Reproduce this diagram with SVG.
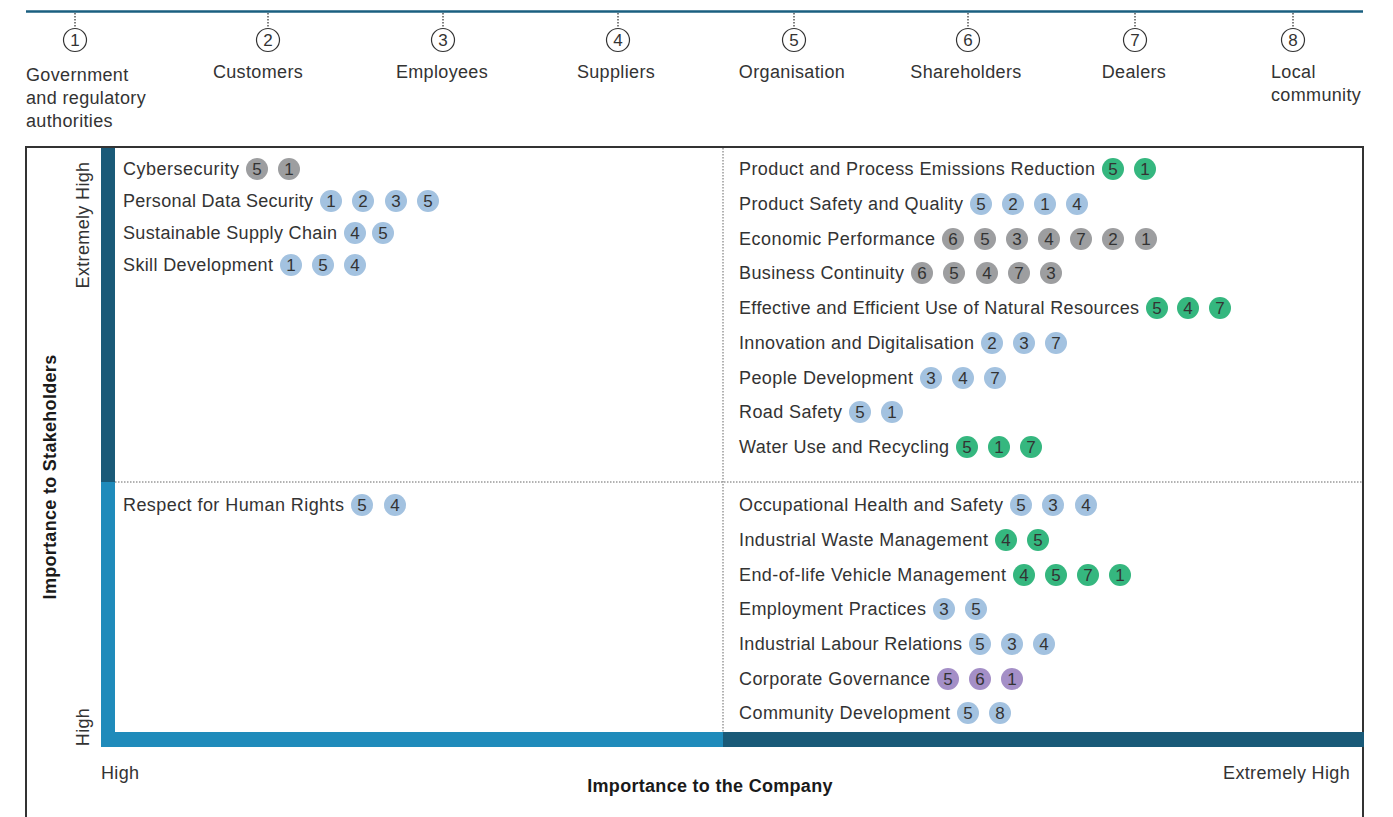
<svg xmlns="http://www.w3.org/2000/svg" width="1393" height="817" viewBox="0 0 1393 817">
<style>
text{font-family:"Liberation Sans",Arial,Helvetica,sans-serif;fill:#333;}
.lbl{font-size:18px;letter-spacing:0.35px;}
.it{font-size:18px;}
.b text{font-size:17px;text-anchor:middle;}
.g circle{fill:#9d9ea0;}
.bl circle{fill:#a3c2e0;}
.gr circle{fill:#35b77f;}
.pu circle{fill:#a48fc7;}
.sc circle{fill:none;stroke:#333;stroke-width:1.2;}
.sc text{font-size:17px;text-anchor:middle;}
.tick{stroke:#555;stroke-width:1.5;stroke-dasharray:1.5 1.5;}
.dot{stroke:#666;stroke-width:1;stroke-dasharray:1.5 1.5;fill:none;}
.ax{font-size:18px;font-weight:bold;fill:#1a1a1a;letter-spacing:0.3px;}
</style>
<rect width="1393" height="817" fill="#fff"/>
<!-- top legend -->
<g id="legend">
<line x1="26" y1="11.5" x2="1363" y2="11.5" stroke="#1a5f80" stroke-width="2.5"/>
<g class="sc">
<line class="tick" x1="75" y1="13" x2="75" y2="28"/><circle cx="75" cy="40" r="11.5"/><text x="75" y="46">1</text>
<line class="tick" x1="268" y1="13" x2="268" y2="28"/><circle cx="268" cy="40" r="11.5"/><text x="268" y="46">2</text>
<line class="tick" x1="443" y1="13" x2="443" y2="28"/><circle cx="443" cy="40" r="11.5"/><text x="443" y="46">3</text>
<line class="tick" x1="618" y1="13" x2="618" y2="28"/><circle cx="618" cy="40" r="11.5"/><text x="618" y="46">4</text>
<line class="tick" x1="794" y1="13" x2="794" y2="28"/><circle cx="794" cy="40" r="11.5"/><text x="794" y="46">5</text>
<line class="tick" x1="968" y1="13" x2="968" y2="28"/><circle cx="968" cy="40" r="11.5"/><text x="968" y="46">6</text>
<line class="tick" x1="1135" y1="13" x2="1135" y2="28"/><circle cx="1135" cy="40" r="11.5"/><text x="1135" y="46">7</text>
<line class="tick" x1="1293" y1="13" x2="1293" y2="28"/><circle cx="1293" cy="40" r="11.5"/><text x="1293" y="46">8</text>
</g>
<text class="lbl" x="26" y="81">Government</text>
<text class="lbl" x="26" y="104">and regulatory</text>
<text class="lbl" x="26" y="127">authorities</text>
<text class="lbl" x="258" y="78" text-anchor="middle">Customers</text>
<text class="lbl" x="442" y="78" text-anchor="middle">Employees</text>
<text class="lbl" x="616" y="78" text-anchor="middle">Suppliers</text>
<text class="lbl" x="792" y="78" text-anchor="middle">Organisation</text>
<text class="lbl" x="966" y="78" text-anchor="middle">Shareholders</text>
<text class="lbl" x="1134" y="78" text-anchor="middle">Dealers</text>
<text class="lbl" x="1271" y="78">Local</text>
<text class="lbl" x="1271" y="101">community</text>
</g>
<!-- frame and axes -->
<g id="frame">
<path d="M26 817 V147 H1363 V817" fill="none" stroke="#333" stroke-width="2"/>
<line class="dot" x1="723" y1="148" x2="723" y2="732"/>
<line class="dot" x1="115" y1="482" x2="1362" y2="482"/>
<rect x="101" y="148" width="14" height="334" fill="#1a5a78"/>
<rect x="101" y="482" width="14" height="250" fill="#1f8bbb"/>
<rect x="101" y="732" width="622" height="15" fill="#1f8bbb"/>
<rect x="723" y="732" width="641" height="15" fill="#1a5a78"/>
<text class="lbl" transform="translate(89 225) rotate(-90)" text-anchor="middle">Extremely High</text>
<text class="lbl" transform="translate(89 727) rotate(-90)" text-anchor="middle">High</text>
<text class="ax" transform="translate(56 477) rotate(-90)" text-anchor="middle">Importance to Stakeholders</text>
<text class="lbl" x="101" y="779">High</text>
<text class="lbl" x="1350" y="779" text-anchor="end">Extremely High</text>
<text class="ax" x="710" y="792" text-anchor="middle">Importance to the Company</text>
</g>
<!-- top-left quadrant -->
<g id="n-cyber"><text class="it" x="123" y="175" textLength="116">Cybersecurity</text>
<g class="b g"><circle cx="257" cy="169" r="11"/><text x="257" y="175">5</text><circle cx="289" cy="169" r="11"/><text x="289" y="175">1</text></g></g>
<g id="n-pds"><text class="it" x="123" y="207" textLength="190">Personal Data Security</text>
<g class="b bl"><circle cx="331" cy="201" r="11"/><text x="331" y="207">1</text><circle cx="363" cy="201" r="11"/><text x="363" y="207">2</text><circle cx="396" cy="201" r="11"/><text x="396" y="207">3</text><circle cx="428" cy="201" r="11"/><text x="428" y="207">5</text></g></g>
<g id="n-ssc"><text class="it" x="123" y="239" textLength="214">Sustainable Supply Chain</text>
<g class="b bl"><circle cx="355" cy="233" r="11"/><text x="355" y="239">4</text><circle cx="383" cy="233" r="11"/><text x="383" y="239">5</text></g></g>
<g id="n-skill"><text class="it" x="123" y="271" textLength="150">Skill Development</text>
<g class="b bl"><circle cx="291" cy="265" r="11"/><text x="291" y="271">1</text><circle cx="323" cy="265" r="11"/><text x="323" y="271">5</text><circle cx="355" cy="265" r="11"/><text x="355" y="271">4</text></g></g>
<!-- bottom-left -->
<g id="n-hr"><text class="it" x="123" y="511" textLength="221">Respect for Human Rights</text>
<g class="b bl"><circle cx="362" cy="505" r="11"/><text x="362" y="511">5</text><circle cx="395" cy="505" r="11"/><text x="395" y="511">4</text></g></g>
<!-- top-right -->
<g id="n-emis"><text class="it" x="739" y="175" textLength="356">Product and Process Emissions Reduction</text>
<g class="b gr"><circle cx="1113" cy="169" r="11"/><text x="1113" y="175">5</text><circle cx="1145" cy="169" r="11"/><text x="1145" y="175">1</text></g></g>
<g id="n-psq"><text class="it" x="739" y="210" textLength="224">Product Safety and Quality</text>
<g class="b bl"><circle cx="981" cy="204" r="11"/><text x="981" y="210">5</text><circle cx="1013" cy="204" r="11"/><text x="1013" y="210">2</text><circle cx="1045" cy="204" r="11"/><text x="1045" y="210">1</text><circle cx="1077" cy="204" r="11"/><text x="1077" y="210">4</text></g></g>
<g id="n-econ"><text class="it" x="739" y="245" textLength="196">Economic Performance</text>
<g class="b g"><circle cx="953" cy="239" r="11"/><text x="953" y="245">6</text><circle cx="985" cy="239" r="11"/><text x="985" y="245">5</text><circle cx="1017" cy="239" r="11"/><text x="1017" y="245">3</text><circle cx="1049" cy="239" r="11"/><text x="1049" y="245">4</text><circle cx="1081" cy="239" r="11"/><text x="1081" y="245">7</text><circle cx="1113" cy="239" r="11"/><text x="1113" y="245">2</text><circle cx="1146" cy="239" r="11"/><text x="1146" y="245">1</text></g></g>
<g id="n-bc"><text class="it" x="739" y="279" textLength="165">Business Continuity</text>
<g class="b g"><circle cx="922" cy="273" r="11"/><text x="922" y="279">6</text><circle cx="954" cy="273" r="11"/><text x="954" y="279">5</text><circle cx="987" cy="273" r="11"/><text x="987" y="279">4</text><circle cx="1019" cy="273" r="11"/><text x="1019" y="279">7</text><circle cx="1051" cy="273" r="11"/><text x="1051" y="279">3</text></g></g>
<g id="n-nat"><text class="it" x="739" y="314" textLength="400">Effective and Efficient Use of Natural Resources</text>
<g class="b gr"><circle cx="1157" cy="308" r="11"/><text x="1157" y="314">5</text><circle cx="1188" cy="308" r="11"/><text x="1188" y="314">4</text><circle cx="1220" cy="308" r="11"/><text x="1220" y="314">7</text></g></g>
<g id="n-inno"><text class="it" x="739" y="349" textLength="235">Innovation and Digitalisation</text>
<g class="b bl"><circle cx="992" cy="343" r="11"/><text x="992" y="349">2</text><circle cx="1024" cy="343" r="11"/><text x="1024" y="349">3</text><circle cx="1056" cy="343" r="11"/><text x="1056" y="349">7</text></g></g>
<g id="n-people"><text class="it" x="739" y="384" textLength="174">People Development</text>
<g class="b bl"><circle cx="931" cy="378" r="11"/><text x="931" y="384">3</text><circle cx="963" cy="378" r="11"/><text x="963" y="384">4</text><circle cx="995" cy="378" r="11"/><text x="995" y="384">7</text></g></g>
<g id="n-road"><text class="it" x="739" y="418" textLength="103">Road Safety</text>
<g class="b bl"><circle cx="860" cy="412" r="11"/><text x="860" y="418">5</text><circle cx="892" cy="412" r="11"/><text x="892" y="418">1</text></g></g>
<g id="n-water"><text class="it" x="739" y="453" textLength="210">Water Use and Recycling</text>
<g class="b gr"><circle cx="967" cy="447" r="11"/><text x="967" y="453">5</text><circle cx="999" cy="447" r="11"/><text x="999" y="453">1</text><circle cx="1031" cy="447" r="11"/><text x="1031" y="453">7</text></g></g>
<!-- bottom-right -->
<g id="n-ohs"><text class="it" x="739" y="511" textLength="264">Occupational Health and Safety</text>
<g class="b bl"><circle cx="1021" cy="505" r="11"/><text x="1021" y="511">5</text><circle cx="1053" cy="505" r="11"/><text x="1053" y="511">3</text><circle cx="1086" cy="505" r="11"/><text x="1086" y="511">4</text></g></g>
<g id="n-iwm"><text class="it" x="739" y="546" textLength="249">Industrial Waste Management</text>
<g class="b gr"><circle cx="1006" cy="540" r="11"/><text x="1006" y="546">4</text><circle cx="1038" cy="540" r="11"/><text x="1038" y="546">5</text></g></g>
<g id="n-elv"><text class="it" x="739" y="581" textLength="267">End-of-life Vehicle Management</text>
<g class="b gr"><circle cx="1024" cy="575" r="11"/><text x="1024" y="581">4</text><circle cx="1056" cy="575" r="11"/><text x="1056" y="581">5</text><circle cx="1088" cy="575" r="11"/><text x="1088" y="581">7</text><circle cx="1120" cy="575" r="11"/><text x="1120" y="581">1</text></g></g>
<g id="n-emp"><text class="it" x="739" y="615" textLength="187">Employment Practices</text>
<g class="b bl"><circle cx="944" cy="609" r="11"/><text x="944" y="615">3</text><circle cx="976" cy="609" r="11"/><text x="976" y="615">5</text></g></g>
<g id="n-ilr"><text class="it" x="739" y="650" textLength="223">Industrial Labour Relations</text>
<g class="b bl"><circle cx="980" cy="644" r="11"/><text x="980" y="650">5</text><circle cx="1012" cy="644" r="11"/><text x="1012" y="650">3</text><circle cx="1044" cy="644" r="11"/><text x="1044" y="650">4</text></g></g>
<g id="n-cg"><text class="it" x="739" y="685" textLength="191">Corporate Governance</text>
<g class="b pu"><circle cx="948" cy="679" r="11"/><text x="948" y="685">5</text><circle cx="980" cy="679" r="11"/><text x="980" y="685">6</text><circle cx="1012" cy="679" r="11"/><text x="1012" y="685">1</text></g></g>
<g id="n-cd"><text class="it" x="739" y="719" textLength="211">Community Development</text>
<g class="b bl"><circle cx="968" cy="713" r="11"/><text x="968" y="719">5</text><circle cx="1000" cy="713" r="11"/><text x="1000" y="719">8</text></g></g>
<g id="connectors"></g>
</svg>
